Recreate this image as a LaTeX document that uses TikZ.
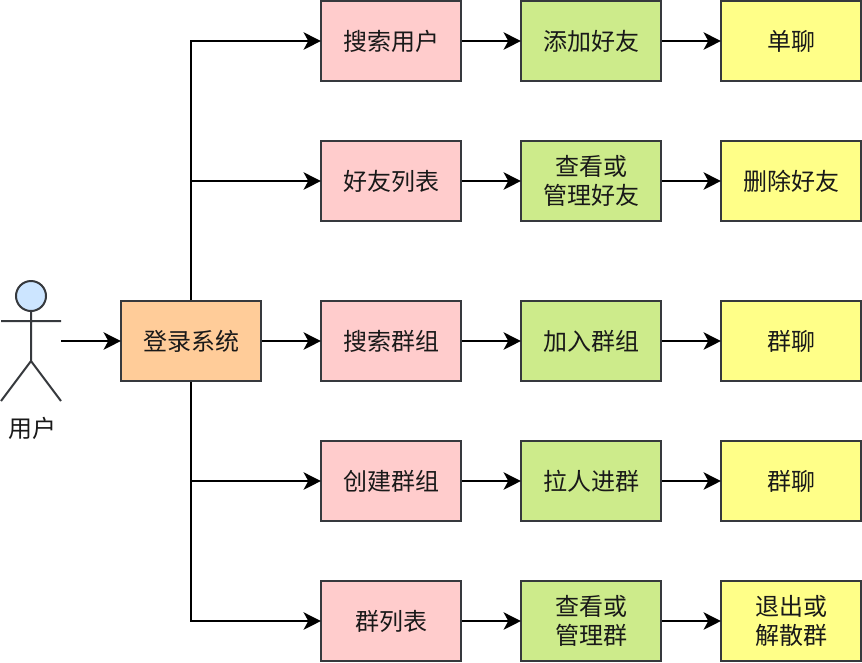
\documentclass[tikz,border=0pt]{standalone}
\usepackage{fontspec}
\setmainfont{Noto Sans CJK SC}
\usetikzlibrary{arrows.meta}
\definecolor{linegray}{HTML}{36393D}
\definecolor{redbox}{HTML}{FFCCCC}
\definecolor{greenbox}{HTML}{CDEB8B}
\definecolor{yellowbox}{HTML}{FFFF88}
\definecolor{orangebox}{HTML}{FFCC99}
\definecolor{bluehead}{HTML}{CCE5FF}
\tikzset{
    box/.style={draw=linegray, line width=1.5pt, minimum width=105pt, minimum height=60pt, inner sep=0pt, align=center, font=\fontsize{18}{21.5}\selectfont, text=black!90},
    link/.style={black, line width=1.5pt, shorten >=-0.7pt, -{Stealth[length=13pt, width=13pt, inset=3.5pt]}},
    figure/.style={linegray, line width=1.5pt}
}
\begin{document}
\begin{tikzpicture}[x=0.75pt, y=-0.75pt]
    \useasboundingbox (0,0) rectangle (862,662);

    %user
    \filldraw[figure, fill=bluehead] (31,296) circle (11.25pt);
    \draw[figure] (31,311) -- (31,361) (1,321) -- (61,321) (1,401) -- (31,361) -- (61,401);
    \node[font=\fontsize{18}{21.5}\selectfont, text=black!90] (user) at (32,428) {用户};
    \coordinate (userout) at (61,341);

    \node[box, fill=orangebox] (login) at (191,341) {登录系统};

    %first column
    \node[box, fill=redbox] (searchuser) at (391,41) {搜索用户};
    \node[box, fill=redbox] (friendlist) at (391,181) {好友列表};
    \node[box, fill=redbox] (searchgroup) at (391,341) {搜索群组};
    \node[box, fill=redbox] (creategroup) at (391,481) {创建群组};
    \node[box, fill=redbox] (grouplist) at (391,621) {群列表};

    %second column
    \node[box, fill=greenbox] (addfriend) at (591,41) {添加好友};
    \node[box, fill=greenbox] (managefriend) at (591,181) {查看或\\管理好友};
    \node[box, fill=greenbox] (joingroup) at (591,341) {加入群组};
    \node[box, fill=greenbox] (invite) at (591,481) {拉人进群};
    \node[box, fill=greenbox] (managegroup) at (591,621) {查看或\\管理群};

    %third column
    \node[box, fill=yellowbox] (chat) at (791,41) {单聊};
    \node[box, fill=yellowbox] (delfriend) at (791,181) {删除好友};
    \node[box, fill=yellowbox] (groupchata) at (791,341) {群聊};
    \node[box, fill=yellowbox] (groupchatb) at (791,481) {群聊};
    \node[box, fill=yellowbox] (quitgroup) at (791,621) {退出或\\解散群};

    \draw[link] (userout) -- (login);
    \draw[link] (login) -- (searchgroup);
    \draw[link] (login.north) |- (searchuser);
    \draw[link] (login.north) |- (friendlist);
    \draw[link] (login.south) |- (creategroup);
    \draw[link] (login.south) |- (grouplist);

    \foreach \a/\b in {searchuser/addfriend, addfriend/chat, friendlist/managefriend, managefriend/delfriend, searchgroup/joingroup, joingroup/groupchata, creategroup/invite, invite/groupchatb, grouplist/managegroup, managegroup/quitgroup}
        \draw[link] (\a) -- (\b);
\end{tikzpicture}
\end{document}
